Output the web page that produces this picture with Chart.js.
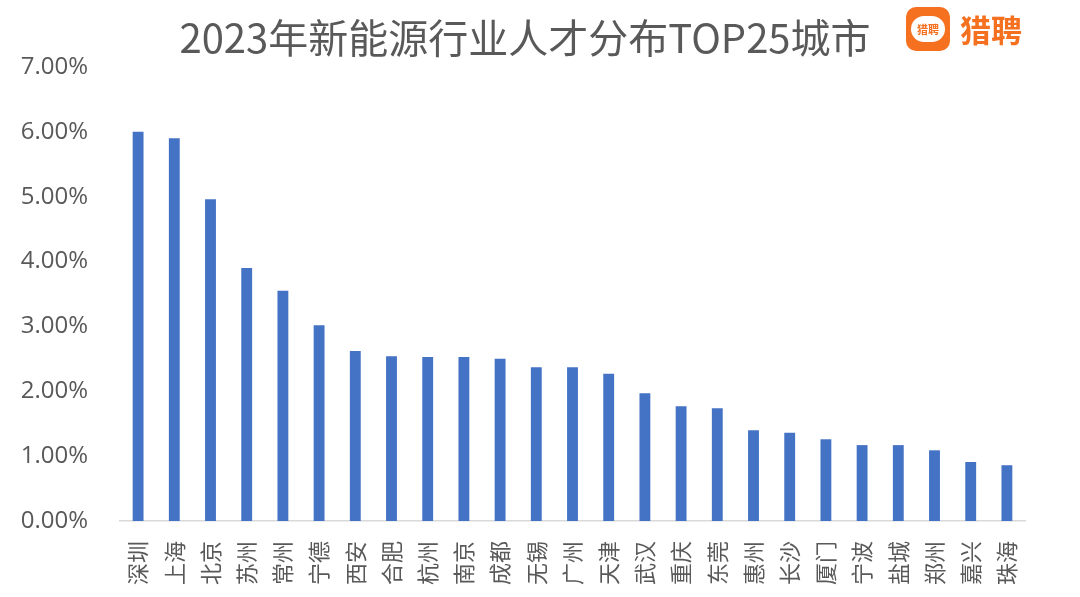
<!DOCTYPE html>
<html lang="zh">
<head>
    <meta charset="UTF-8">
    <title>2023年新能源行业人才分布TOP25城市</title>
    <script src="https://cdn.jsdelivr.net/npm/chart.js"></script>
    <style>
        body { margin: 0; background: #fff; font-family: "Noto Sans CJK SC", sans-serif; }
        .wrap { position: relative; width: 1080px; height: 597px; }
        canvas { position: absolute; left: 0; top: 0; }
        .title { position: absolute; left: 0; width: 1050px; top: 11px; text-align: center;
                 font-size: 40px; color: #595959; line-height: 50px; }
        .logo { position: absolute; left: 906px; top: 6px; display: flex; align-items: center; }
        .logo .icon { width: 44px; height: 44px; border-radius: 10px; background: #f5701f;
                      display: flex; align-items: center; justify-content: center; }
        .logo .bubble { width: 34px; height: 26px; border-radius: 13px; background: #fff;
                        color: #f5701f; font-size: 11px; font-weight: bold; text-align: center; line-height: 26px; }
        .logo .name { margin-left: 10px; font-size: 31px; font-weight: bold; color: #f5701f; }
    </style>
</head>
<body>
<div class="wrap">
    <canvas id="chart" width="1080" height="597"></canvas>
    <div class="title">2023年新能源行业人才分布TOP25城市</div>
    <div class="logo"><div class="icon"><div class="bubble">猎聘</div></div><div class="name">猎聘</div></div>
</div>
<script>
    // city names and share of new-energy talent (%)
    const cities = ['深圳', '上海', '北京', '苏州', '常州', '宁德', '西安', '合肥', '杭州', '南京', '成都', '无锡', '广州',
        '天津', '武汉', '重庆', '东莞', '惠州', '长沙', '厦门', '宁波', '盐城', '郑州', '嘉兴', '珠海'];
    const shares = [6.00, 5.90, 4.96, 3.90, 3.55, 3.02, 2.62, 2.54, 2.53, 2.53, 2.50, 2.37, 2.37,
        2.27, 1.97, 1.77, 1.74, 1.40, 1.36, 1.26, 1.17, 1.17, 1.09, 0.91, 0.86];
    const yTicks = [0, 1, 2, 3, 4, 5, 6, 7];

    const grey = '#595959';
    const ctx = document.getElementById('chart').getContext('2d');
    new Chart(ctx, {
        type: 'bar',
        data: {
            labels: cities,
            datasets: [{
                data: shares,
                backgroundColor: '#4472c4',
                barPercentage: 0.6,
                categoryPercentage: 0.5
            }]
        },
        options: {
            responsive: false,
            animation: false,
            layout: { padding: { top: 67, right: 55, left: 0, bottom: 0 } },
            plugins: { legend: { display: false }, tooltip: { enabled: false } },
            scales: {
                x: {
                    grid: { display: false },
                    border: { color: '#d9d9d9', width: 1.5 },
                    ticks: {
                        color: grey,
                        font: { family: 'Noto Sans CJK SC', size: 22 },
                        minRotation: 90,
                        maxRotation: 90,
                        autoSkip: false,
                        padding: 12
                    }
                },
                y: {
                    min: 0,
                    max: 7,
                    afterBuildTicks: (axis) => { axis.ticks = yTicks.map(v => ({ value: v })); },
                    afterFit: (axis) => { axis.width = 120; },
                    grid: { display: false },
                    border: { display: false },
                    ticks: {
                        color: grey,
                        font: { family: 'Open Sans', size: 24 },
                        padding: 24,
                        callback: (v) => v.toFixed(2) + '%'
                    }
                }
            }
        }
    });
</script>
</body>
</html>
